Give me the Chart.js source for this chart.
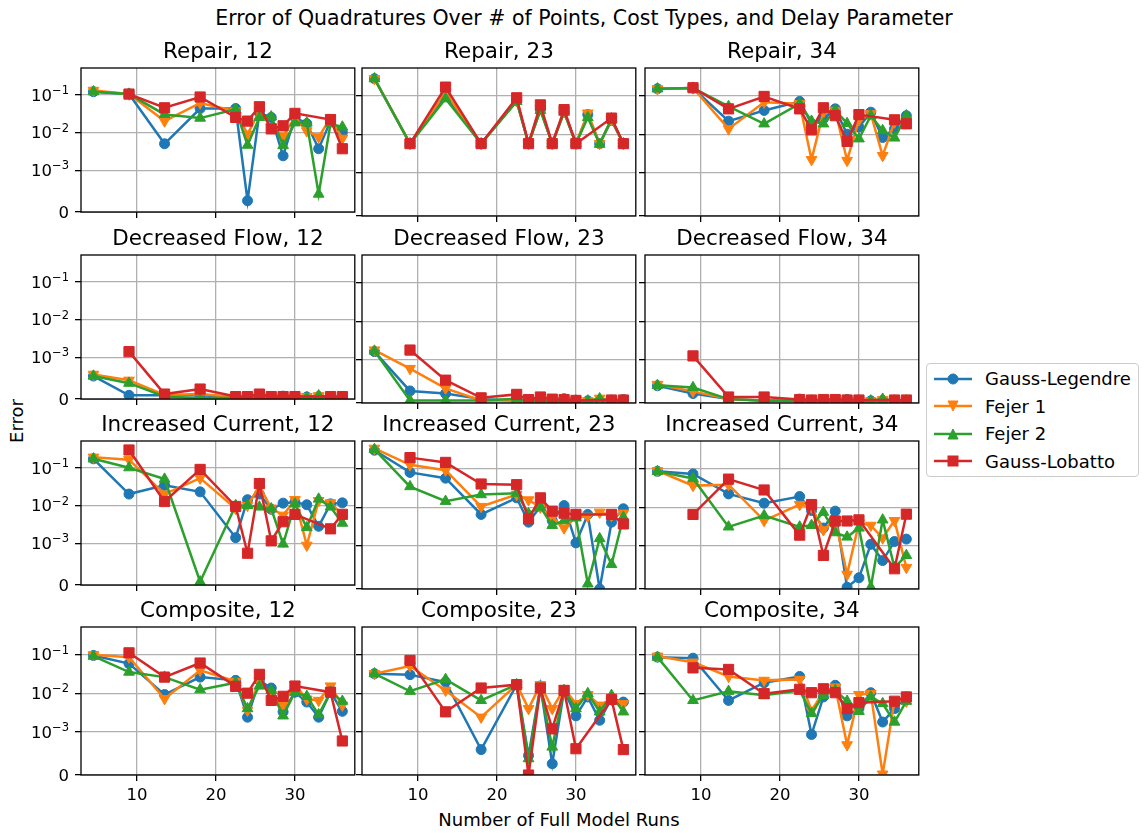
<!DOCTYPE html>
<html>
<head>
<meta charset="utf-8">
<script src="https://cdn.jsdelivr.net/npm/chart.js@4.4.0/dist/chart.umd.min.js"></script>
<style>
  html, body { margin: 0; padding: 0; background: #fff; }
  #fig { position: relative; width: 1144px; height: 833px; overflow: hidden; font-family: "DejaVu Sans", sans-serif; color: #000; }
  .pc { position: absolute; }
  #suptitle { position: absolute; left: 0; width: 1168px; top: 4px; text-align: center; font-size: 20.5px; line-height: 28px; white-space: nowrap; }
  #xlabel { position: absolute; left: 0; width: 1118px; top: 808px; text-align: center; font-size: 18px; line-height: 24px; white-space: nowrap; }
  #ylabel { position: absolute; left: 16.5px; top: 421px; font-size: 18px; line-height: 22px; transform: translate(-50%, -50%) rotate(-90deg); white-space: nowrap; }
  #legend { position: absolute; left: 926px; top: 363px; width: 213px; height: 114px; border: 1px solid #cccccc; border-radius: 4px; background: rgba(255,255,255,0.8); box-sizing: border-box; padding-top: 1px; }
  .lrow { position: relative; height: 27.5px; font-size: 18px; }
  .lrow svg { position: absolute; left: 6px; top: 3.75px; }
  .lrow span { position: absolute; left: 58px; top: 0; line-height: 27.5px; white-space: nowrap; }
</style>
</head>
<body>
<div id="fig">
  <div id="suptitle">Error of Quadratures Over # of Points, Cost Types, and Delay Parameter</div>
  <div id="xlabel">Number of Full Model Runs</div>
  <div id="ylabel">Error</div>
  <div id="legend"></div>
</div>
<script>
// ---------------- data ----------------
const xRuns = [4.5, 9, 13.5, 18, 22.5, 24, 25.5, 27, 28.5, 30, 31.5, 33, 34.5, 36];
const xRunsLobatto = [9, 13.5, 18, 22.5, 24, 25.5, 27, 28.5, 30, 34.5, 36];
const costTypes = ['Repair', 'Decreased Flow', 'Increased Current', 'Composite'];
const delays = [12, 23, 34];
const methods = ['Gauss-Legendre', 'Fejer 1', 'Fejer 2', 'Gauss-Lobatto'];
const methodColors = ['#1f77b4', '#ff7f0e', '#2ca02c', '#d62728'];
const xTickValues = [10, 20, 30];
const yTickValues = [0, 1e-3, 1e-2, 1e-1];
const yTickBase = ['0', '10', '10', '10'];
const yTickExp = ['', '\u22123', '\u22122', '\u22121'];
const xMin = 2.925, xMax = 37.575, yMin = 0, yMax = 0.51;

// each panel: [Gauss-Legendre, Fejer 1, Fejer 2, Gauss-Lobatto]
const repair12 = [
  [0.12, 0.105, 0.005, 0.043, 0.043, 0.00027, 0.033, 0.025, 0.0024, 0.025, 0.017, 0.0037, 0.02, 0.01],
  [0.13, 0.104, 0.02, 0.06, 0.037, 0.009, 0.037, 0.014, 0.008, 0.025, 0.011, 0.0076, 0.024, 0.007],
  [0.12, 0.104, 0.03, 0.024, 0.041, 0.0046, 0.025, 0.026, 0.0045, 0.018, 0.018, 0.00043, 0.017, 0.014],
  [0.104, 0.045, 0.087, 0.025, 0.02, 0.048, 0.0124, 0.015, 0.032, 0.022, 0.0037]
];
const repair23 = [
  [0.27, 0.0057, 0.1, 0.0057, 0.072, 0.0057, 0.043, 0.0057, 0.037, 0.0057, 0.032, 0.0057, 0.0226, 0.0057],
  [0.27, 0.0057, 0.12, 0.0057, 0.074, 0.0057, 0.045, 0.0057, 0.04, 0.0057, 0.035, 0.0057, 0.024, 0.0057],
  [0.27, 0.0057, 0.082, 0.0057, 0.07, 0.0057, 0.041, 0.0057, 0.037, 0.0057, 0.027, 0.0055, 0.025, 0.0057],
  [0.0057, 0.164, 0.0057, 0.087, 0.0057, 0.057, 0.0057, 0.043, 0.0057, 0.026, 0.0057]
];
const repair34 = [
  [0.148, 0.155, 0.0217, 0.041, 0.07, 0.0185, 0.025, 0.045, 0.01, 0.0152, 0.037, 0.0082, 0.0137, 0.03],
  [0.148, 0.155, 0.0137, 0.067, 0.061, 0.0022, 0.037, 0.041, 0.0021, 0.0235, 0.0335, 0.0028, 0.0205, 0.0205],
  [0.148, 0.155, 0.052, 0.0185, 0.061, 0.0217, 0.0185, 0.041, 0.019, 0.0076, 0.03, 0.0124, 0.008, 0.03],
  [0.158, 0.045, 0.094, 0.045, 0.0129, 0.048, 0.03, 0.0065, 0.032, 0.0235, 0.0185]
];
const decFlow12 = [
  [0.00055, 0.00009, 0.00009, 0.00009, 0.00005, 0.00005, 0.00005, 0.00006, 0.00007, 0.00006, 0.00005, 0.00006, 0.00005, 0.00006],
  [0.00059, 0.00045, 0.0001, 0.00012, 0.00005, 0.00005, 0.00005, 0.00005, 0.00005, 0.00005, 0.00006, 0.00008, 0.00005, 0.00005],
  [0.00055, 0.00038, 0.00006, 0.00002, 0.00003, 0.00003, 0.00004, 0.00003, 0.00003, 0.00004, 0.00004, 0.00008, 0.00003, 0.00004],
  [0.0014, 0.00012, 0.00024, 0.00006, 0.00006, 0.00012, 0.00006, 0.00006, 0.00006, 0.00006, 0.00006]
];
const decFlow23 = [
  [0.00164, 0.00028, 0.00022, 0.00009, 0.00006, 0.00006, 0.00006, 0.00006, 0.0001, 0.00006, 0.00005, 0.00006, 0.00006, 0.00008],
  [0.0018, 0.0008, 0.00034, 0.00006, 0.00006, 0.00006, 0.00008, 0.00008, 0.00006, 0.00006, 0.00005, 0.00011, 0.00006, 0.00006],
  [0.0017, 0.00006, 0.00006, 0.00006, 0.0001, 0.00006, 0.00006, 0.00005, 0.00005, 0.00005, 0.00005, 0.0001, 0.00005, 0.00005],
  [0.0018, 0.00053, 0.00012, 0.0002, 0.00008, 0.00014, 0.00009, 0.00008, 0.00006, 0.00007, 0.00007]
];
const decFlow34 = [
  [0.0004, 0.00022, 0.00009, 0.00006, 0.00009, 0.00006, 0.00006, 0.00006, 0.00008, 0.00006, 0.00005, 0.00006, 0.00006, 0.00006],
  [0.00043, 0.00027, 0.00009, 0.00006, 0.00006, 0.00006, 0.00007, 0.00009, 0.00006, 0.00006, 0.00005, 0.00008, 0.00006, 0.00006],
  [0.00041, 0.00036, 0.00009, 0.00005, 0.00005, 0.00005, 0.00005, 0.00005, 0.00005, 0.00005, 0.00005, 0.00009, 0.00005, 0.00005],
  [0.00127, 0.00014, 0.00014, 0.00008, 0.00007, 0.00008, 0.00008, 0.00007, 0.00007, 0.00007, 0.00007]
];
const incCurrent12 = [
  [0.172, 0.02, 0.034, 0.0229, 0.0014, 0.0142, 0.02, 0.0079, 0.0115, 0.0122, 0.0104, 0.0028, 0.011, 0.0117],
  [0.19, 0.163, 0.02, 0.053, 0.0082, 0.01, 0.0326, 0.0085, 0.0055, 0.0142, 0.00095, 0.0134, 0.0117, 0.0058],
  [0.172, 0.1, 0.05, 0.00008, 0.01, 0.01, 0.0091, 0.0082, 0.00098, 0.011, 0.0026, 0.0148, 0.0091, 0.0034],
  [0.295, 0.0127, 0.09, 0.0094, 0.00076, 0.038, 0.00115, 0.0037, 0.0058, 0.0024, 0.0058]
];
const incCurrent23 = [
  [0.295, 0.079, 0.056, 0.0065, 0.0174, 0.0041, 0.0104, 0.0045, 0.011, 0.0012, 0.0065, 0, 0.0041, 0.0091],
  [0.33, 0.124, 0.09, 0.0104, 0.0211, 0.0154, 0.01, 0.0055, 0.0029, 0.0055, 0.0058, 0.0074, 0.0061, 0.007],
  [0.31, 0.034, 0.0142, 0.0211, 0.0229, 0.0068, 0.01, 0.0034, 0.0045, 0.0053, 0.00012, 0.00155, 0.00057, 0.0055],
  [0.19, 0.143, 0.0397, 0.038, 0.005, 0.0174, 0.0079, 0.007, 0.0065, 0.0065, 0.0037]
];
const incCurrent34 = [
  [0.084, 0.072, 0.022, 0.0127, 0.0188, 0.0082, 0.0029, 0.0079, 0.00004, 0.00026, 0.0011, 0.00066, 0.0013, 0.0015],
  [0.087, 0.036, 0.038, 0.0045, 0.0117, 0.01, 0.0026, 0.0047, 0.00034, 0.0039, 0.0034, 0.0016, 0.0045, 0.0005],
  [0.084, 0.055, 0.0031, 0.0061, 0.0031, 0.0034, 0.0074, 0.0022, 0.0017, 0.0029, 0.00004, 0.0047, 0.0005, 0.00078],
  [0.0065, 0.053, 0.0278, 0.0019, 0.0117, 0.00078, 0.0044, 0.0044, 0.0047, 0.00047, 0.0066]
];
const composite12 = [
  [0.094, 0.058, 0.0092, 0.026, 0.0214, 0.0024, 0.0214, 0.0136, 0.0033, 0.0106, 0.0059, 0.0024, 0.0106, 0.0034],
  [0.098, 0.085, 0.0072, 0.039, 0.0202, 0.0036, 0.02, 0.0092, 0.005, 0.0166, 0.007, 0.0065, 0.0153, 0.0049],
  [0.09, 0.035, 0.026, 0.0123, 0.0186, 0.004, 0.0153, 0.0118, 0.0026, 0.0106, 0.0083, 0.0028, 0.0106, 0.0062],
  [0.11, 0.026, 0.06, 0.015, 0.01, 0.0306, 0.0065, 0.0083, 0.0153, 0.0106, 0.00079]
];
const composite23 = [
  [0.0318, 0.03, 0.0194, 0.00059, 0.0166, 0.00045, 0.0153, 0.00026, 0.0118, 0.0026, 0.008, 0.002, 0.0072, 0.0059],
  [0.0318, 0.05, 0.0118, 0.0024, 0.0166, 0.004, 0.0166, 0.004, 0.013, 0.0054, 0.0092, 0.0049, 0.0069, 0.0054],
  [0.0318, 0.0112, 0.0227, 0.0065, 0.0166, 0.00038, 0.013, 0.00065, 0.0118, 0.004, 0.0098, 0.0033, 0.0088, 0.0033],
  [0.07, 0.0033, 0.0136, 0.0166, 0, 0.0136, 0.0012, 0.0118, 0.00061, 0.0069, 0.00059]
];
const composite34 = [
  [0.085, 0.08, 0.0065, 0.0186, 0.027, 0.00094, 0.008, 0.016, 0.0026, 0.004, 0.0103, 0.0018, 0.004, 0.008],
  [0.09, 0.063, 0.027, 0.0214, 0.0227, 0.0036, 0.0107, 0.0144, 0.0007, 0.0092, 0.0098, 0.00002, 0.0065, 0.0062],
  [0.085, 0.0065, 0.0112, 0.0088, 0.0118, 0.003, 0.0088, 0.0118, 0.0062, 0.0034, 0.008, 0.0054, 0.0018, 0.0062],
  [0.045, 0.041, 0.0097, 0.0126, 0.0103, 0.013, 0.0103, 0.004, 0.0057, 0.0062, 0.008]
];
const panelData = [
  [repair12, repair23, repair34],
  [decFlow12, decFlow23, decFlow34],
  [incCurrent12, incCurrent23, incCurrent34],
  [composite12, composite23, composite34]
];

// ---------------- symlog scale (linthresh 1e-3, linscale 1, base 10) ----------------
const LIN_THRESH = 1e-3;
const LIN_SCALE = 1 / (1 - 1 / 10);
function symT(v) {
  const a = Math.abs(v), s = v < 0 ? -1 : 1;
  return a <= LIN_THRESH ? s * a / LIN_THRESH * LIN_SCALE : s * (LIN_SCALE + Math.log10(a / LIN_THRESH));
}
function symInv(t) {
  const a = Math.abs(t), s = t < 0 ? -1 : 1;
  return a <= LIN_SCALE ? s * a / LIN_SCALE * LIN_THRESH : s * LIN_THRESH * Math.pow(10, a - LIN_SCALE);
}
const TICK_FS = 16.5;
const FONT = '"DejaVu Sans", sans-serif';

class SymlogScale extends Chart.LinearScale {
  buildTicks() { return yTickValues.map(v => ({ value: v })); }
  configure() {
    super.configure();
    this._sStart = symT(this.min);
    this._sRange = symT(this.max) - this._sStart;
  }
  getPixelForValue(v) { return this.getPixelForDecimal((symT(v) - this._sStart) / this._sRange); }
  getValueForPixel(p) { return symInv(this.getDecimalForPixel(p) * this._sRange + this._sStart); }
  drawLabels() {
    const o = this.options;
    if (!o.ticks.display) return;
    const ctx = this.ctx;
    const fs = TICK_FS, sfs = fs * 0.7;
    const xr = this.right - o.grid.tickLength - o.ticks.padding;
    ctx.save();
    ctx.fillStyle = '#000';
    ctx.textBaseline = 'alphabetic';
    ctx.textAlign = 'right';
    this.ticks.forEach(t => {
      const idx = yTickValues.indexOf(t.value);
      const y = this.getPixelForValue(t.value);
      const yb = y + 0.729 * fs / 2;
      let x = xr;
      const exp = yTickExp[idx];
      if (exp) {
        ctx.font = sfs + 'px ' + FONT;
        ctx.fillText(exp, x, yb - 0.42 * fs);
        x -= ctx.measureText(exp).width;
      }
      ctx.font = fs + 'px ' + FONT;
      ctx.fillText(yTickBase[idx], x, yb);
    });
    ctx.restore();
  }
}
SymlogScale.id = 'symlog';
SymlogScale.defaults = {};
Chart.register(SymlogScale);

const framePlugin = {
  id: 'axframe',
  afterDatasetsDraw(chart) {
    const a = chart.chartArea, ctx = chart.ctx;
    ctx.save();
    ctx.strokeStyle = '#000';
    ctx.lineWidth = 1.3;
    ctx.strokeRect(a.left, a.top, a.right - a.left, a.bottom - a.top);
    ctx.restore();
  }
};

Chart.defaults.font.family = FONT;
Chart.defaults.color = '#000';

// ---------------- layout ----------------
const colLeft = [81, 362, 645];
const rowTop = [68, 255, 441, 627];
const axW = 274, axH = 148, titleH = 32;
const pointStyles = ['circle', 'triangle', 'triangle', 'rect'];
const pointRots = [0, 180, 0, 0];
const pointRadii = [5, 6.2, 6.2, 7.2];

const fig = document.getElementById('fig');

for (let r = 0; r < 4; r++) {
  for (let c = 0; c < 3; c++) {
    const padL = c === 0 ? 80 : 12;
    const padB = r === 3 ? 40 : 12;
    const padR = 8;
    const W = padL + axW + padR, H = titleH + axH + padB;
    const cv = document.createElement('canvas');
    cv.className = 'pc';
    cv.width = W; cv.height = H;
    cv.style.width = W + 'px'; cv.style.height = H + 'px';
    cv.style.left = (colLeft[c] - padL) + 'px';
    cv.style.top = (rowTop[r] - titleH) + 'px';
    fig.appendChild(cv);

    const series = panelData[r][c];
    const datasets = series.map((vals, i) => {
      const xs = i === 3 ? xRunsLobatto : xRuns;
      return {
        label: methods[i],
        data: xs.map((x, k) => ({ x: x, y: vals[k] })),
        borderColor: methodColors[i],
        backgroundColor: methodColors[i],
        borderWidth: 2.5,
        pointStyle: pointStyles[i],
        pointRotation: pointRots[i],
        pointRadius: pointRadii[i],
        pointBorderWidth: 1,
        pointBorderColor: methodColors[i],
        pointBackgroundColor: methodColors[i],
        tension: 0,
        clip: 0,
        order: 3 - i
      };
    });

    new Chart(cv, {
      type: 'line',
      data: { datasets },
      plugins: [framePlugin],
      options: {
        responsive: false,
        animation: false,
        devicePixelRatio: 1,
        events: [],
        layout: { padding: { left: 0, right: padR, top: 0, bottom: 0 } },
        plugins: {
          legend: { display: false },
          tooltip: { enabled: false },
          title: {
            display: true,
            text: costTypes[r] + ', ' + delays[c],
            fullSize: false,
            font: { size: 21.5, weight: 'normal', lineHeight: 1.2, family: FONT },
            color: '#000',
            padding: { top: 4, bottom: 2.2 }
          }
        },
        scales: {
          x: {
            type: 'linear',
            min: xMin, max: xMax,
            afterFit: s => { s.height = padB; },
            afterBuildTicks: s => { s.ticks = xTickValues.map(v => ({ value: v })); },
            ticks: {
              display: r === 3,
              callback: v => String(v),
              font: { size: TICK_FS, family: FONT },
              color: '#000',
              padding: 5,
              maxRotation: 0
            },
            grid: { color: '#b0b0b0', lineWidth: 1.3, tickColor: '#000', tickLength: 6, tickWidth: 1.3, drawTicks: true },
            border: { display: false }
          },
          y: {
            type: 'symlog',
            min: yMin, max: yMax,
            afterFit: s => { s.width = padL; },
            ticks: { display: c === 0, padding: 6, font: { size: TICK_FS, family: FONT } },
            grid: { color: '#b0b0b0', lineWidth: 1.3, tickColor: '#000', tickLength: 6, tickWidth: 1.3, drawTicks: true },
            border: { display: false }
          }
        }
      }
    });
  }
}

// ---------------- legend ----------------
const legend = document.getElementById('legend');
const svgNS = 'http://www.w3.org/2000/svg';
methods.forEach((m, i) => {
  const row = document.createElement('div');
  row.className = 'lrow';
  const svg = document.createElementNS(svgNS, 'svg');
  svg.setAttribute('width', '40'); svg.setAttribute('height', '20');
  const line = document.createElementNS(svgNS, 'line');
  line.setAttribute('x1', '1'); line.setAttribute('x2', '39');
  line.setAttribute('y1', '10'); line.setAttribute('y2', '10');
  line.setAttribute('stroke', methodColors[i]); line.setAttribute('stroke-width', '2.5');
  svg.appendChild(line);
  let mk;
  if (i === 0) {
    mk = document.createElementNS(svgNS, 'circle');
    mk.setAttribute('cx', '20'); mk.setAttribute('cy', '10'); mk.setAttribute('r', '5');
  } else if (i === 1) {
    mk = document.createElementNS(svgNS, 'polygon');
    mk.setAttribute('points', '15,5 25,5 20,15');
  } else if (i === 2) {
    mk = document.createElementNS(svgNS, 'polygon');
    mk.setAttribute('points', '15,15 25,15 20,5');
  } else {
    mk = document.createElementNS(svgNS, 'rect');
    mk.setAttribute('x', '15'); mk.setAttribute('y', '5'); mk.setAttribute('width', '10'); mk.setAttribute('height', '10');
  }
  mk.setAttribute('fill', methodColors[i]);
  mk.setAttribute('stroke', methodColors[i]);
  mk.setAttribute('stroke-width', '1');
  svg.appendChild(mk);
  row.appendChild(svg);
  const sp = document.createElement('span');
  sp.textContent = m;
  row.appendChild(sp);
  legend.appendChild(row);
});
</script>
</body>
</html>
